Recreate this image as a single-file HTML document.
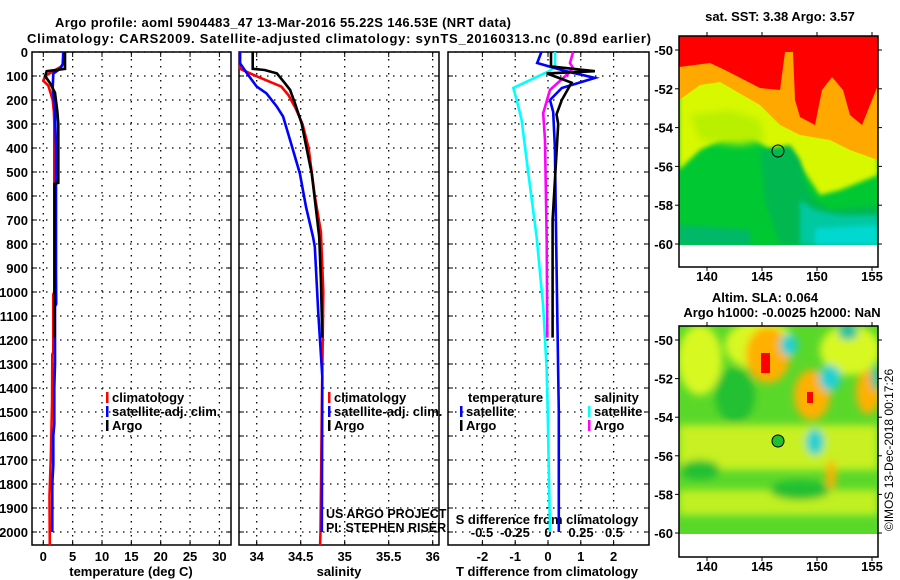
<!DOCTYPE html>
<html><head><meta charset="utf-8"><style>
html,body{margin:0;padding:0;background:#fff;}
svg{display:block;font-family:"Liberation Sans",Arial,sans-serif;}
.b{font-weight:bold;font-size:13px;}
</style></head><body>
<svg id="c" width="900" height="580" viewBox="0 0 900 580" xmlns="http://www.w3.org/2000/svg">
<defs>
<filter id="bl" x="-30%" y="-30%" width="160%" height="160%"><feGaussianBlur stdDeviation="4"/></filter>
<filter id="bl2" x="-30%" y="-30%" width="160%" height="160%"><feGaussianBlur stdDeviation="2.5"/></filter>
<clipPath id="clipTop"><rect x="679" y="36" width="199" height="209"/></clipPath>
<clipPath id="clipBot"><rect x="679" y="326" width="199" height="208"/></clipPath>
</defs>
<text class="b" x="55" y="27" textLength="456">Argo profile: aoml 5904483_47 13-Mar-2016 55.22S 146.53E (NRT data)</text>
<text class="b" x="27" y="43" textLength="624">Climatology: CARS2009. Satellite-adjusted climatology: synTS_20160313.nc (0.89d earlier)</text>

<!-- top map -->
<g>
<g clip-path="url(#clipTop)">
<rect x="679" y="36" width="199" height="209" fill="#00c832"/>
<path d="M679 170 L700 150 L720 140 L750 135 L770 150 L790 150 L810 180 L820 195 L840 190 L878 175 L878 36 L679 36Z" fill="#d8f800" filter="url(#bl2)"/>
<path d="M679 100 L700 85 L720 82 L760 105 L780 125 L800 135 L830 140 L850 150 L878 160 L878 36 L679 36Z" fill="#ffa800"/>
<path d="M679 67 L710 63 L725 70 L760 88 L780 90 L785 52 L793 52 L795 100 L800 117 L815 125 L822 90 L832 77 L843 90 L850 115 L862 125 L870 105 L878 85 L878 36 L679 36Z" fill="#ff0000"/>
<path d="M760 150 L790 145 L800 160 L805 185 L815 200 L830 210 L878 205 L878 245 L780 245 L765 200Z" fill="#00b850" filter="url(#bl2)"/>
<path d="M800 200 L815 210 L840 215 L878 215 L878 245 L800 245Z" fill="#00c8a0" filter="url(#bl2)"/>
<path d="M815 228 L878 225 L878 245 L815 245Z" fill="#00d8d0" filter="url(#bl2)"/>
<path d="M679 225 L750 230 L750 245 L679 245Z" fill="#00b868" filter="url(#bl2)"/>
<path d="M690 115 L730 110 L760 120 L765 140 L740 145 L700 140Z" fill="#b8f000" filter="url(#bl)"/>
</g>
<rect x="679" y="245" width="199" height="22" fill="#fff"/>
<rect x="679" y="36" width="199" height="231" fill="none" stroke="#000" stroke-width="1.5"/>
<circle cx="778" cy="151" r="6" fill="none" stroke="#000" stroke-width="1"/>
</g>
<text class="b" x="780" y="21" text-anchor="middle">sat. SST: 3.38 Argo: 3.57</text>

<!-- bottom map -->
<g>
<g clip-path="url(#clipBot)">
<rect x="679" y="326" width="199" height="208" fill="#5ad82a"/>
<g filter="url(#bl)">
<ellipse cx="700" cy="360" rx="22" ry="35" fill="#d8f820"/>
<ellipse cx="760" cy="345" rx="35" ry="25" fill="#d8f820"/>
<ellipse cx="850" cy="350" rx="30" ry="25" fill="#d8f820"/>
<rect x="679" y="425" width="199" height="45" fill="#c8f020"/>
<rect x="679" y="490" width="199" height="25" fill="#c0f020"/>
<ellipse cx="735" cy="395" rx="20" ry="28" fill="#20c030"/>
<ellipse cx="800" cy="490" rx="30" ry="10" fill="#20c030"/>
<ellipse cx="700" cy="470" rx="20" ry="10" fill="#20c030"/>
<ellipse cx="768" cy="355" rx="22" ry="28" fill="#ffb000"/>
<ellipse cx="812" cy="395" rx="18" ry="25" fill="#ffb000"/>
<ellipse cx="868" cy="392" rx="12" ry="22" fill="#ffb000"/>
<ellipse cx="831" cy="475" rx="5" ry="15" fill="#ffb000"/>
<ellipse cx="789" cy="345" rx="9" ry="11" fill="#20d0d0"/>
<ellipse cx="830" cy="378" rx="11" ry="13" fill="#20d0d0"/>
<ellipse cx="815" cy="442" rx="9" ry="13" fill="#20d0d0"/>
<ellipse cx="848" cy="332" rx="10" ry="8" fill="#20c0a0"/>
<ellipse cx="876" cy="378" rx="5" ry="12" fill="#20c0a0"/>
</g>
<rect x="761" y="353" width="9" height="20" fill="#ff0000"/>
<rect x="807" y="392" width="6" height="11" fill="#ff0000"/>
</g>
<rect x="679" y="534" width="199" height="23" fill="#fff"/>
<rect x="679" y="326" width="199" height="231" fill="none" stroke="#000" stroke-width="1.5"/>
<circle cx="778" cy="441" r="6" fill="#22c030" stroke="#000" stroke-width="1"/>
</g>
<text class="b" x="765" y="302" text-anchor="middle">Altim. SLA: 0.064</text>
<text class="b" x="782" y="317" text-anchor="middle">Argo h1000: -0.0025 h2000: NaN</text>
<text class="b" x="893" y="450" text-anchor="middle" transform="rotate(-90 893 450)" style="font-weight:normal;font-size:12px">©IMOS 13-Dec-2018 00:17:26</text>

<g id="plots"></g>
</svg>
<script>
// ---- data ----
const depthTicks = [0,100,200,300,400,500,600,700,800,900,1000,1100,1200,1300,1400,1500,1600,1700,1800,1900,2000];
const tempTicks = [0,5,10,15,20,25,30];
const salTicks = [34,34.5,35,35.5,36];
const salTickLabels = ["34","34.5","35","35.5","36"];
const dTTicks = [-2,-1,0,1,2];
const dSTicks = [-0.5,-0.25,0,0.25,0.5];
const dSTickLabels = ["-0.5","-0.25","0","0.25","0.5"];

const tClimDepth = [0,50,60,80,100,120,140,200,250,300,800,1000,1010,1250,1260,1450,1680,1850,2055];
const tClim = [3.4,3.4,3.1,1.7,0.3,0.0,0.85,1.6,1.8,1.87,1.87,1.87,1.7,1.7,1.53,1.5,1.3,1.05,1.1];
const tSatDepth = [0,50,70,90,150,250,400,900,1050,1060,1300,1400,1550,1600,1720,1800,2000];
const tSat = [3.4,3.3,2.85,1.7,1.6,2.0,2.16,2.16,2.2,2.0,2.0,1.87,1.87,1.7,1.7,1.53,1.53];
const tArgoDepth = [0,70,80,100,130,170,250,300,545,550,1190];
const tArgo = [3.7,3.7,0.58,0.3,1.15,2.0,2.4,2.55,2.55,1.9,1.9];

const sClimDepth = [0,70,103,144,179,233,300,400,600,750,1000,1500,2000,2055];
const sClim = [33.81,33.81,34.01,34.28,34.36,34.44,34.52,34.59,34.66,34.73,34.757,34.74,34.725,34.72];
const sSatDepth = [0,47,89,144,172,228,269,367,505,645,770,811,1089,1353,2000];
const sSat = [33.81,33.81,33.89,34.0,34.11,34.23,34.30,34.38,34.49,34.56,34.64,34.66,34.70,34.745,34.74];
const sArgoDepth = [0,70,75,89,130,158,214,297,408,505,645,770,950,1190];
const sArgo = [33.955,33.955,34.09,34.23,34.32,34.38,34.435,34.51,34.57,34.625,34.67,34.71,34.73,34.745];

const dTSatDepth = [0,46,80,108,150,200,250,400,800,1500,2000];
const dTSat = [-0.2,-0.33,0.55,1.43,0.42,0.06,0.16,0.21,0.25,0.33,0.33];
const dTArgoDepth = [0,60,80,89,110,128,200,260,300,700,1190];
const dTArgo = [0.09,0.09,1.43,-0.04,0.37,0.72,0.42,0.26,0.31,0.14,0.14];
const dSSatDepth = [0,60,78,150,200,283,505,770,1061,1325,1500,2000];
const dSSat = [0.053,0.053,0.015,-0.263,-0.237,-0.2,-0.149,-0.086,-0.036,-0.01,-0.002,0.015];
const dSArgoDepth = [0,46,67,89,158,255,367,783,1190];
const dSArgo = [0.19,0.167,0.19,0.154,0.015,-0.036,-0.023,-0.01,-0.005];

const latTicks = [-50,-52,-54,-56,-58,-60];
const lonTicks = [140,145,150,155];

// ---- scales ----
const NS="http://www.w3.org/2000/svg";
const TOP=52, BOT=545;
const yD = d => TOP + d*0.24;
const xT = v => 43.3 + v*5.87;
const xS = v => 256.7 + (v-34)*88;
const xdT = v => 548 + v*32.8;
const xdS = v => 548 + v*132;
const panels = [{x0:32,x1:231},{x0:239,x1:439},{x0:448,x1:649}];
const root = document.getElementById('plots');
function el(tag, attrs, parent){ const e=document.createElementNS(NS,tag); for(const k in attrs) e.setAttribute(k,attrs[k]); (parent||root).appendChild(e); return e; }
function txt(x,y,s,anchor,cls,parent){ const t=el('text',{x:x,y:y,'text-anchor':anchor||'start','class':cls||'b'},parent); t.textContent=s; return t; }

panels.forEach((p,i)=>{
  const g=el('g',{});
  
  
  depthTicks.forEach(d=>{
    const y=yD(d);
    const l=el('line',{x1:p.x0,x2:p.x1,y1:y,y2:y,stroke:'#000','stroke-dasharray':'1.5,5.5','stroke-width':1.3},g);
    
    
    el('line',{x1:p.x0,x2:p.x0+5,y1:y,y2:y,stroke:'#000','stroke-width':1},g);
    el('line',{x1:p.x1-5,x2:p.x1,y1:y,y2:y,stroke:'#000','stroke-width':1},g);
  });
  const xs = i==0? tempTicks.map(xT) : i==1 ? salTicks.map(xS) : dTTicks.map(xdT);
  xs.forEach(x=>{
    const l=el('line',{x1:x,x2:x,y1:TOP,y2:BOT,stroke:'#000','stroke-dasharray':'1.5,5.5','stroke-width':1.3},g);
    
    
    el('line',{x1:x,x2:x,y1:BOT,y2:BOT-5,stroke:'#000'},g);
    el('line',{x1:x,x2:x,y1:TOP,y2:TOP+5,stroke:'#000'},g);
  });
  el('rect',{x:p.x0,y:TOP,width:p.x1-p.x0,height:BOT-TOP,fill:'none',stroke:'#000','stroke-width':1.5},g);
});

depthTicks.forEach(d=>{
  const t=txt(28,yD(d)+5,String(d),'end');
  
  
});
tempTicks.forEach(v=>{ const t=txt(xT(v),561,String(v),'middle');   });
salTicks.forEach((v,i)=>{ const t=txt(xS(v),561,salTickLabels[i],'middle');   });
dTTicks.forEach(v=>{ const t=txt(xdT(v),561,String(v),'middle');   });
dSTicks.forEach((v,i)=>{ const t=txt(xdS(v),537,dSTickLabels[i],'middle');   });
let t;
t=txt(131,576,'temperature (deg C)','middle');  
t=txt(339,576,'salinity','middle');  
t=txt(547,576,'T difference from climatology','middle');  
t=txt(547,524,'S difference from climatology','middle');  

function line(depths, vals, xf, color, name){
  const pts = depths.map((d,i)=>xf(vals[i]).toFixed(1)+','+yD(d).toFixed(1)).join(' ');
  const p=el('polyline',{points:pts,fill:'none',stroke:color,'stroke-width':2.6,'stroke-linejoin':'miter'});
  
  
}
line(tClimDepth,tClim,xT,'#ff0000','temperature-climatology-line');
line(tSatDepth,tSat,xT,'#0000ff','temperature-satellite-line');
line(tArgoDepth,tArgo,xT,'#000','temperature-argo-line');
line(sClimDepth,sClim,xS,'#ff0000','salinity-climatology-line');
line(sSatDepth,sSat,xS,'#0000ff','salinity-satellite-line');
line(sArgoDepth,sArgo,xS,'#000','salinity-argo-line');
line(dSSatDepth,dSSat,xdS,'#00ffff','s-diff-satellite-line');
line(dSArgoDepth,dSArgo,xdS,'#ff00ff','s-diff-argo-line');
line(dTSatDepth,dTSat,xdT,'#0000ff','t-diff-satellite-line');
line(dTArgoDepth,dTArgo,xdT,'#000','t-diff-argo-line');

function leg(x,y,color,label,name){
  const g=el('g',{});
  
  
  el('rect',{x:x,y:y-10,width:2.5,height:11,fill:color},g);
  txt(x+6,y,label,'start','b',g);
}
leg(106,402,'#ff0000','climatology','legend-entry-climatology');
leg(106,416,'#0000ff','satellite-adj. clim.','legend-entry-satellite');
leg(106,430,'#000','Argo','legend-entry-argo');
leg(328,402,'#ff0000','climatology','legend-entry-salinity-climatology');
leg(328,416,'#0000ff','satellite-adj. clim.','legend-entry-salinity-satellite');
leg(328,430,'#000','Argo','legend-entry-salinity-argo');
t=txt(468,402,'temperature');  
leg(460,416,'#0000ff','satellite','legend-entry-t-satellite');
leg(460,430,'#000','Argo','legend-entry-t-argo');
t=txt(594,402,'salinity');  
leg(588,416,'#00ffff','satellite','legend-entry-s-satellite');
leg(588,430,'#ff00ff','Argo','legend-entry-s-argo');
t=txt(326,518,'US ARGO PROJECT','start',''); t.setAttribute('style','font-size:12.5px');  
t=txt(326,532,'PI: STEPHEN RISER','start',''); t.setAttribute('style','font-size:12.5px');  

const lonX = v => 707 + (v-140)*11;
[[36,50,244],[326,340,533]].forEach((m,mi)=>{
  const [top,y50,y60]=m;
  const latY = v => y50 + (-50 - v)*(y60-y50)/10;
  latTicks.forEach(v=>{
    const y=latY(v);
    const tt=txt(673,y+5,String(v),'end');  
    el('line',{x1:878,x2:882,y1:y,y2:y,stroke:'#000'});
    el('line',{x1:675,x2:679,y1:y,y2:y,stroke:'#000'});
  });
  lonTicks.forEach(v=>{
    const x=lonX(v);
    const tt=txt(x,top+245,String(v),'middle');  
    el('line',{x1:x,x2:x,y1:top,y2:top-4,stroke:'#000'});
    el('line',{x1:x,x2:x,y1:top+231,y2:top+235,stroke:'#000'});
  });
});
</script>
</body></html>
